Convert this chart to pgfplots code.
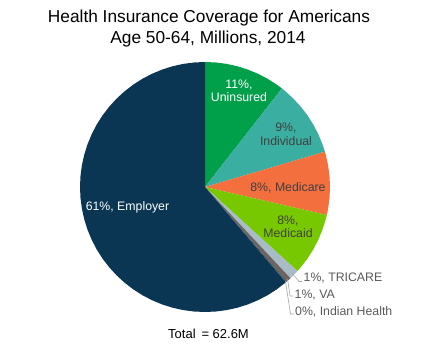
\documentclass[border=0pt]{standalone}
\usepackage{pgfplots}
\pgfplotsset{compat=1.18}
\usepgfplotslibrary{polar}
\usepackage{fontspec}
\setmainfont{Liberation Sans}
\definecolor{cEmp}{HTML}{0A3654}
\definecolor{cUni}{HTML}{00A04A}
\definecolor{cInd}{HTML}{3AAEA1}
\definecolor{cMcr}{HTML}{F36F3E}
\definecolor{cMcd}{HTML}{78C800}
\definecolor{cTri}{HTML}{A7BCC7}
\definecolor{cVA}{HTML}{6D6461}
\definecolor{cIHS}{HTML}{3F5A66}
\definecolor{dtxt}{HTML}{404040}
\definecolor{gtxt}{HTML}{595959}
\definecolor{lead}{HTML}{A6A6A6}
% Millions (total 62.6): Uninsured 6.6, Individual 6.2, Medicare 5.1, Medicaid 5.1,
% TRICARE 0.8, VA 0.4, Indian Health 0.1, Employer 38.3
% wedge boundaries (polar deg): 90, 52.04, 16.39, -12.94, -42.27, -46.87, -49.17, -49.74, -270
\begin{document}
\begin{tikzpicture}[x=1bp,y=1bp]
\path[use as bounding box] (0,0) rectangle (432,352);
\begin{polaraxis}[at={(205bp,165bp)}, anchor=center, scale only axis,
  width=250bp, height=250bp, hide axis, xmin=0, xmax=360, ymin=0, ymax=1, clip=false]
% Uninsured
\addplot[draw=none, fill=cUni] coordinates {(0,0) (90,1) (85,1) (80,1) (75,1) (70,1) (65,1) (60,1) (55,1) (52.04,1)} -- cycle;
% Individual
\addplot[draw=none, fill=cInd] coordinates {(0,0) (52.04,1) (50,1) (45,1) (40,1) (35,1) (30,1) (25,1) (20,1) (16.39,1)} -- cycle;
% Medicare
\addplot[draw=none, fill=cMcr] coordinates {(0,0) (16.39,1) (15,1) (10,1) (5,1) (0,1) (-5,1) (-10,1) (-12.94,1)} -- cycle;
% Medicaid
\addplot[draw=none, fill=cMcd] coordinates {(0,0) (-12.94,1) (-15,1) (-20,1) (-25,1) (-30,1) (-35,1) (-40,1) (-42.27,1)} -- cycle;
% TRICARE
\addplot[draw=none, fill=cTri] coordinates {(0,0) (-42.27,1) (-45,1) (-46.87,1)} -- cycle;
% VA
\addplot[draw=none, fill=cVA] coordinates {(0,0) (-46.87,1) (-49.17,1)} -- cycle;
% Indian Health
\addplot[draw=none, fill=cIHS] coordinates {(0,0) (-49.17,1) (-49.74,1)} -- cycle;
% Employer
\addplot[draw=none, fill=cEmp] coordinates {(0,0) (-49.74,1) (-55,1) (-60,1) (-65,1) (-70,1) (-75,1) (-80,1) (-85,1) (-90,1)
 (-95,1) (-100,1) (-105,1) (-110,1) (-115,1) (-120,1) (-125,1) (-130,1) (-135,1) (-140,1) (-145,1) (-150,1) (-155,1) (-160,1)
 (-165,1) (-170,1) (-175,1) (-180,1) (-185,1) (-190,1) (-195,1) (-200,1) (-205,1) (-210,1) (-215,1) (-220,1) (-225,1) (-230,1)
 (-235,1) (-240,1) (-245,1) (-250,1) (-255,1) (-260,1) (-265,1) (-270,1)} -- cycle;
% leader lines
\addplot[draw=lead, line width=0.6bp, mark=none] coordinates {(-44.67,0.979) (-45.15,1.066) (-44.26,1.083)};
\addplot[draw=lead, line width=0.6bp, mark=none] coordinates {(-48.1,0.989) (-52.05,1.106) (-51.09,1.121)};
\addplot[draw=lead, line width=0.6bp, mark=none] coordinates {(-49.58,0.993) (-56.04,1.225) (-54.98,1.241)};
\end{polaraxis}
% title
\node[anchor=base, inner sep=0] at (209,330) {\fontsize{17.3bp}{21bp}\selectfont Health Insurance Coverage for Americans};
\node[anchor=base, inner sep=0] at (208,308.5) {\fontsize{17.3bp}{21bp}\selectfont Age 50-64, Millions, 2014};
% inside labels
\begin{scope}[every node/.style={anchor=base, inner sep=0, font=\fontsize{12.3bp}{14bp}\selectfont}]
\node[text=white] at (239,264) {11\%,};
\node[text=white] at (239,250.3) {Uninsured};
\node[text=dtxt] at (286,221) {9\%,};
\node[text=dtxt] at (286,207) {Individual};
\node[text=dtxt] at (288,161) {8\%, Medicare};
\node[text=dtxt] at (288,128) {8\%,};
\node[text=dtxt] at (288,114.7) {Medicaid};
\node[text=white] at (127.5,142) {61\%, Employer};
\end{scope}
\begin{scope}[every node/.style={anchor=base west, inner sep=0, text=gtxt, font=\fontsize{12.3bp}{14bp}\selectfont}]
\node at (303.5,70.3) {1\%, TRICARE};
\node at (294.5,53.7) {1\%, VA};
\node at (295,37) {0\%, Indian Health};
\node[text=black, font=\fontsize{13bp}{15bp}\selectfont] at (168,13.7) {Total\hspace{0.45em}= 62.6M};
\end{scope}
\end{tikzpicture}
\end{document}
